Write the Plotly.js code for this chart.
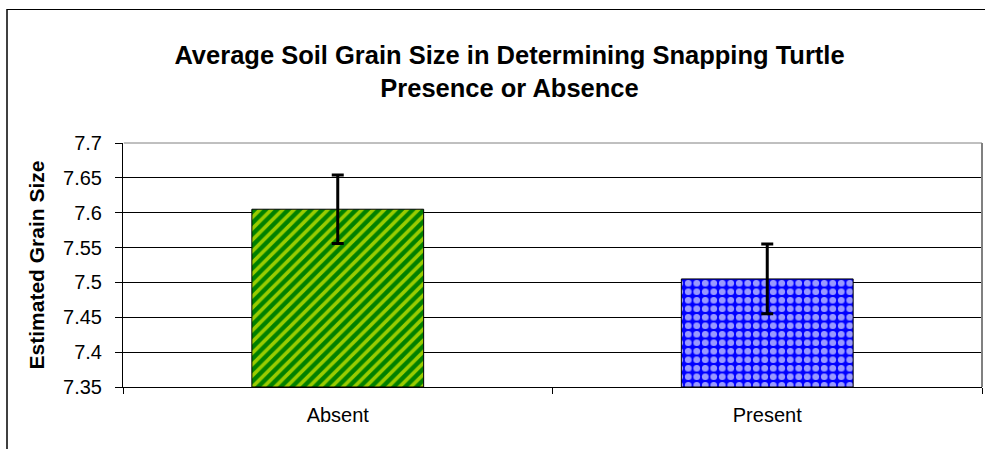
<!DOCTYPE html>
<html>
<head>
<meta charset="utf-8">
<script src="https://cdn.plot.ly/plotly-3.0.1.min.js"></script>
<style>html,body{margin:0;padding:0;background:#fff;}#chart{width:985px;height:449px;}</style>
</head>
<body>
<div id="chart"></div>
<script>
const categories = ["Absent", "Present"];
const meanValues = [7.605, 7.505];
const errorValues = [0.049, 0.05];
const yTickValues = [7.35, 7.4, 7.45, 7.5, 7.55, 7.6, 7.65, 7.7];
const yTickLabels = ["7.35", "7.4", "7.45", "7.5", "7.55", "7.6", "7.65", "7.7"];
const axisBase = 7.35;

const font = "Liberation Sans, Arial, sans-serif";

const patterns = [
  {shape: "/", fgcolor: "#99CC00", bgcolor: "#008000", size: 8, solidity: 0.45, fillmode: "replace"},
  {shape: ".", fgcolor: "#9999FF", bgcolor: "#0000FF", size: 8.5, solidity: 0.5, fillmode: "replace"}
];
const barColors = ["#008000", "#0000FF"];

const traces = categories.map((c, i) => ({
  type: "bar",
  x: [c],
  y: [meanValues[i] - axisBase],
  base: axisBase,
  width: 0.4,
  marker: {
    color: barColors[i],
    line: {color: "#000", width: 1},
    pattern: patterns[i]
  },
  error_y: {type: "data", array: [errorValues[i]], color: "#000", thickness: 3, width: 6},
  hoverinfo: "skip"
}));

const layout = {
  width: 985,
  height: 449,
  margin: {l: 123, r: 3, t: 143, b: 62},
  paper_bgcolor: "#fff",
  plot_bgcolor: "#fff",
  showlegend: false,
  barmode: "overlay",
  font: {family: font, color: "#000", size: 20},
  title: {
    text: "<b>Average Soil Grain Size in Determining Snapping Turtle<br>Presence or Absence</b>",
    font: {family: font, size: 25.5, color: "#000"},
    x: 509.5 / 985, xref: "container", xanchor: "center",
    y: 1 - 64 / 449, yref: "container", yanchor: "middle"
  },
  xaxis: {
    type: "category",
    categoryorder: "array",
    categoryarray: categories,
    range: [-0.5, 1.5],
    showline: true, linecolor: "#000", linewidth: 1,
    ticks: "outside", tickson: "boundaries", ticklen: 6, tickcolor: "#000",
    ticklabelstandoff: 10,
    showgrid: false,
    tickfont: {family: font, size: 20, color: "#000"},
    fixedrange: true
  },
  yaxis: {
    range: [7.35, 7.7],
    tickvals: yTickValues,
    ticktext: yTickLabels,
    showline: true, linecolor: "#000", linewidth: 1,
    ticks: "outside", ticklen: 7, tickcolor: "#000",
    ticklabelstandoff: 9,
    showgrid: true, gridcolor: "#000", gridwidth: 1,
    zeroline: false,
    tickfont: {family: font, size: 20, color: "#000"},
    title: {text: "<b>Estimated Grain Size</b>", font: {family: font, size: 21, color: "#000"}, standoff: 12},
    fixedrange: true
  },
  shapes: [
    {type: "line", xref: "paper", yref: "paper", x0: 0.001, x1: 1, y0: 1, y1: 1, line: {color: "#808080", width: 1}},
    {type: "line", xref: "paper", yref: "paper", x0: 1, x1: 1, y0: 0, y1: 1, line: {color: "#808080", width: 2}},
    {type: "line", xref: "paper", yref: "paper", x0: (7 - 123) / 859, x1: (7 - 123) / 859, y0: (387 - 460) / 244, y1: (387 - 9) / 244, line: {color: "#404040", width: 2}},
    {type: "line", xref: "paper", yref: "paper", x0: (7 - 123) / 859, x1: (990 - 123) / 859, y0: (387 - 9.5) / 244, y1: (387 - 9.5) / 244, line: {color: "#000", width: 1}}
  ]
};

Plotly.newPlot("chart", traces, layout, {staticPlot: true});
</script>
</body>
</html>
